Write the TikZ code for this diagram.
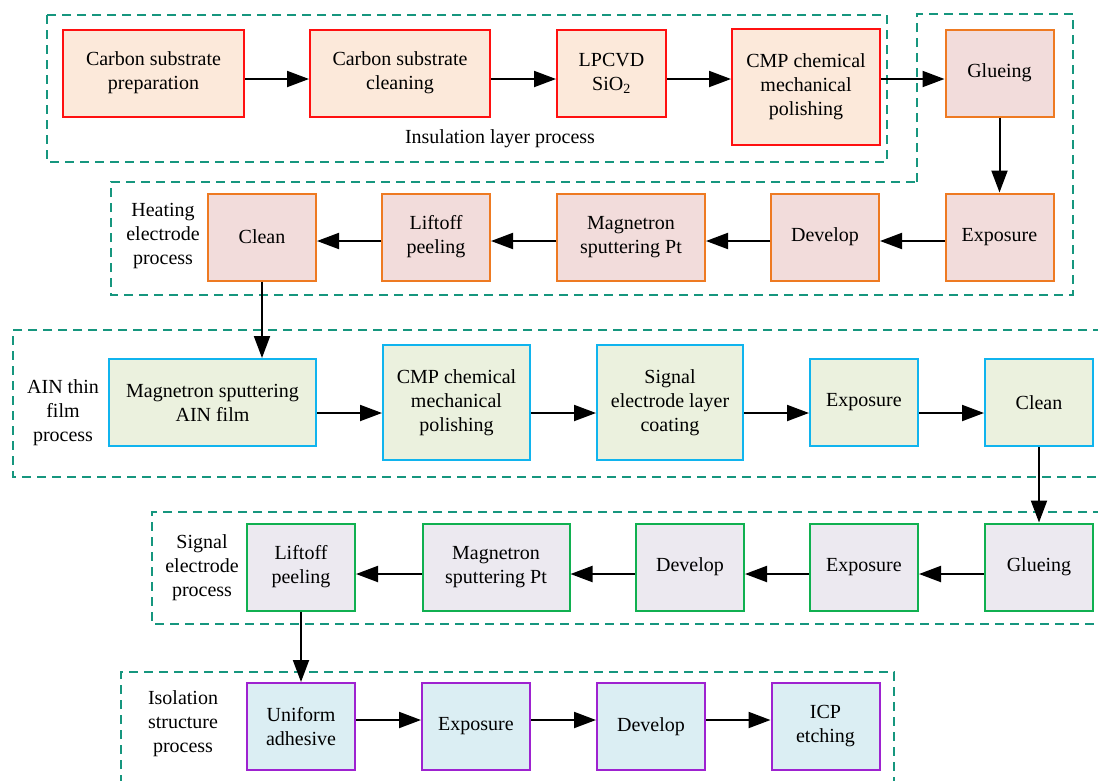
\documentclass[tikz,border=0pt]{standalone}
\usepackage{fontspec}
\setmainfont{Liberation Serif}
\usetikzlibrary{arrows.meta}

\definecolor{insline}{HTML}{FF1010}
\definecolor{insfill}{HTML}{FCE9DA}
\definecolor{heatline}{HTML}{EE7A22}
\definecolor{heatfill}{HTML}{F2DCDB}
\definecolor{alnline}{HTML}{10B4EE}
\definecolor{alnfill}{HTML}{EBF1DE}
\definecolor{sigline}{HTML}{10B050}
\definecolor{sigfill}{HTML}{ECE9F0}
\definecolor{isoline}{HTML}{9E22D0}
\definecolor{isofill}{HTML}{DBEEF3}
\definecolor{framecol}{HTML}{16967E}

\begin{document}
\begin{tikzpicture}
		[x=1pt, y=-1pt,
		font=\fontsize{20}{24}\selectfont,
		block/.style ={rectangle, line width=2pt, align=center, inner sep=0pt, minimum width=108pt, minimum height=87pt},
		ins/.style = {block, draw=insline, fill=insfill},
		heat/.style = {block, draw=heatline, fill=heatfill},
		aln/.style = {block, draw=alnline, fill=alnfill},
		sig/.style = {block, draw=sigline, fill=sigfill},
		iso/.style = {block, draw=isoline, fill=isofill},
		frame/.style = {draw=framecol, line width=2pt, dash pattern=on 9pt off 6pt},
		line/.style ={line width=2pt, -{Triangle[length=22pt, width=16pt]}},
		grp/.style = {align=center},
		]
		\useasboundingbox (0,0) rectangle (1098,780);

		% process frames
		\draw[frame] (47,15) rectangle (887,162);
		\draw[frame] (917,182) -- (917,14) -- (1073,14) -- (1073,295) -- (111,295) -- (111,182) -- cycle;
		\draw[frame] (1102,330) -- (13,330) -- (13,477) -- (1102,477);
		\draw[frame] (1102,512) -- (152,512) -- (152,624) -- (1102,624);
		\draw[frame] (121,784) -- (121,672) -- (894,672) -- (894,784);

		\draw (500,139) node[grp] (L1) {Insulation layer process};
		\draw (163,236) node[grp] (L2) {Heating\\electrode\\process};
		\draw (63,413) node[grp] (L3) {AIN thin\\film\\process};
		\draw (202,568) node[grp] (L4) {Signal\\electrode\\process};
		\draw (183,724) node[grp] (L5) {Isolation\\structure\\process};

		\draw (153.5,73) node[ins, minimum width=181pt] (I1) {Carbon substrate\\preparation};
		\draw (400,73) node[ins, minimum width=180pt] (I2) {Carbon substrate\\cleaning};
		\draw (611.5,73) node[ins, minimum width=109pt] (I3) {LPCVD\\SiO\textsubscript{2}};
		\draw (806,87) node[ins, minimum width=148pt, minimum height=116pt] (I4) {CMP chemical\\mechanical\\polishing};
		\draw (999.5,73) node[heat] (H1) {Glueing};

		\draw (999.5,237) node[heat] (H2) {Exposure};
		\draw (825,237) node[heat] (H3) {Develop};
		\draw (631,237) node[heat, minimum width=148pt] (H4) {Magnetron\\sputtering Pt};
		\draw (436,237) node[heat] (H5) {Liftoff\\peeling};
		\draw (262,237) node[heat] (H6) {Clean};

		\draw (212.5,402.5) node[aln, minimum width=207pt] (A1) {Magnetron sputtering\\AIN film};
		\draw (456.5,402.5) node[aln, minimum width=147pt, minimum height=115pt] (A2) {CMP chemical\\mechanical\\polishing};
		\draw (670,402.5) node[aln, minimum width=146pt, minimum height=115pt] (A3) {Signal\\electrode layer\\coating};
		\draw (864,402.5) node[aln] (A4) {Exposure};
		\draw (1039,402.5) node[aln] (A5) {Clean};

		\draw (1039,567) node[sig] (S1) {Glueing};
		\draw (864,567) node[sig] (S2) {Exposure};
		\draw (690,567) node[sig] (S3) {Develop};
		\draw (496,567) node[sig, minimum width=147pt] (S4) {Magnetron\\sputtering Pt};
		\draw (301,567) node[sig] (S5) {Liftoff\\peeling};

		\draw (301,726.5) node[iso] (U1) {Uniform\\adhesive};
		\draw (476,726.5) node[iso] (U2) {Exposure};
		\draw (651,726.5) node[iso] (U3) {Develop};
		\draw (825.5,726.5) node[iso] (U4) {ICP\\etching};

		\coordinate (r1) at (0,79);
		\coordinate (r2) at (0,241);
		\coordinate (r3) at (0,413);
		\coordinate (r4) at (0,574);
		\coordinate (r5) at (0,720);

		\path[line]
		(I1.east |- r1) edge (I2.west |- r1)
		(I2.east |- r1) edge (I3.west |- r1)
		(I3.east |- r1) edge (I4.west |- r1)
		(I4.east |- r1) edge (H1.west |- r1)
		(H1.south) edge (H2.north)
		(H2.west |- r2) edge (H3.east |- r2)
		(H3.west |- r2) edge (H4.east |- r2)
		(H4.west |- r2) edge (H5.east |- r2)
		(H5.west |- r2) edge (H6.east |- r2)
		(H6.south) edge (H6.south |- A1.north)
		(A1.east |- r3) edge (A2.west |- r3)
		(A2.east |- r3) edge (A3.west |- r3)
		(A3.east |- r3) edge (A4.west |- r3)
		(A4.east |- r3) edge (A5.west |- r3)
		(A5.south) edge (S1.north)
		(S1.west |- r4) edge (S2.east |- r4)
		(S2.west |- r4) edge (S3.east |- r4)
		(S3.west |- r4) edge (S4.east |- r4)
		(S4.west |- r4) edge (S5.east |- r4)
		(S5.south) edge (U1.north)
		(U1.east |- r5) edge (U2.west |- r5)
		(U2.east |- r5) edge (U3.west |- r5)
		(U3.east |- r5) edge (U4.west |- r5);

	\end{tikzpicture}
\end{document}
